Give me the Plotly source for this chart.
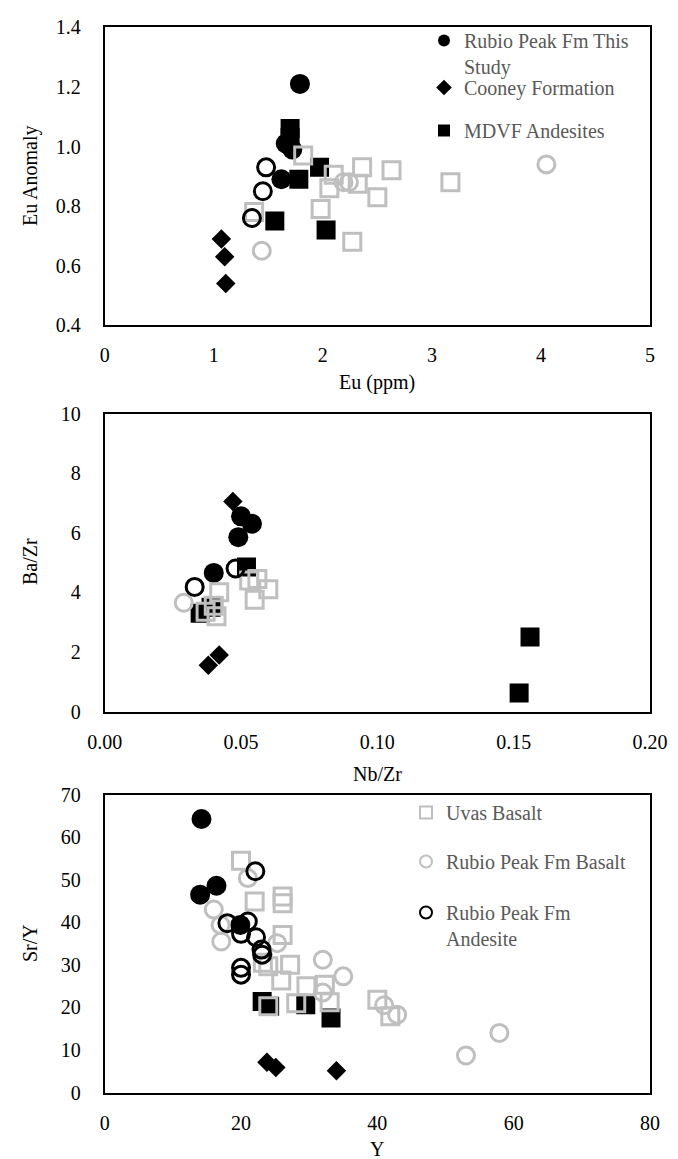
import plotly.graph_objects as go

FONT = "Times New Roman, Liberation Serif, serif"
GRAY = "#BFBFBF"
W, H = 678, 1159

# ---------------- series names ----------------
names = [
    "Rubio Peak Fm This<br>Study",
    "Cooney Formation",
    "MDVF Andesites",
    "Uvas Basalt",
    "Rubio Peak Fm Basalt",
    "Rubio Peak Fm<br>Andesite",
]

# ---------------- Panel 1: Eu (ppm) vs Eu Anomaly ----------------
eu_study_x = [1.79, 1.66, 1.72, 1.62]
eu_study_y = [1.21, 1.01, 0.99, 0.89]
eu_cooney_x = [1.07, 1.10, 1.11]
eu_cooney_y = [0.69, 0.63, 0.54]
eu_mdvf_x = [1.70, 1.70, 1.78, 1.97, 1.56, 2.03]
eu_mdvf_y = [1.06, 1.03, 0.89, 0.93, 0.75, 0.72]
eu_uvas_x = [1.82, 2.10, 2.36, 2.63, 2.06, 2.32, 2.50, 1.98, 1.37, 2.27, 3.17]
eu_uvas_y = [0.97, 0.905, 0.93, 0.92, 0.86, 0.875, 0.83, 0.79, 0.78, 0.68, 0.88]
eu_rpbas_x = [1.44, 2.19, 2.24, 4.05]
eu_rpbas_y = [0.65, 0.88, 0.88, 0.94]
eu_rpand_x = [1.48, 1.45, 1.35]
eu_rpand_y = [0.93, 0.85, 0.76]

# ---------------- Panel 2: Nb/Zr vs Ba/Zr ----------------
nb_study_x = [0.050, 0.054, 0.049, 0.040]
nb_study_y = [6.55, 6.30, 5.85, 4.65]
nb_cooney_x = [0.047, 0.042, 0.038]
nb_cooney_y = [7.05, 1.90, 1.55]
nb_mdvf_x = [0.052, 0.035, 0.039, 0.156, 0.152]
nb_mdvf_y = [4.85, 3.30, 3.50, 2.50, 0.62]
nb_uvas_x = [0.042, 0.040, 0.041, 0.037, 0.053, 0.056, 0.060, 0.055]
nb_uvas_y = [4.00, 3.55, 3.20, 3.35, 4.40, 4.45, 4.10, 3.75]
nb_rpbas_x = [0.029]
nb_rpbas_y = [3.65]
nb_rpand_x = [0.048, 0.033]
nb_rpand_y = [4.80, 4.18]

# ---------------- Panel 3: Y vs Sr/Y ----------------
y_study_x = [14.2, 16.4, 14.0, 19.9]
y_study_y = [64.3, 48.6, 46.5, 39.4]
y_cooney_x = [23.8, 25.1, 34.0]
y_cooney_y = [7.1, 5.9, 5.1]
y_mdvf_x = [23.1, 24.2, 29.5, 33.2]
y_mdvf_y = [21.4, 20.3, 20.6, 17.5]
y_uvas_x = [20.0, 22.0, 26.1, 26.1, 26.1, 24.0, 27.2, 25.9, 29.6, 32.3, 33.0, 24.0, 28.1, 40.0, 41.9, 23.2]
y_uvas_y = [54.5, 44.9, 46.1, 44.5, 37.0, 29.7, 30.0, 26.3, 25.0, 25.3, 21.2, 20.3, 21.0, 21.8, 17.9, 30.5]
y_rpbas_x = [21.0, 16.0, 17.0, 17.1, 25.3, 32.0, 35.0, 32.0, 41.0, 42.9, 57.9, 53.0]
y_rpbas_y = [50.4, 43.0, 39.4, 35.5, 35.1, 31.2, 27.3, 23.5, 20.5, 18.3, 14.0, 8.7]
y_rpand_x = [22.1, 18.0, 21.0, 20.0, 22.2, 23.0, 23.1, 20.0, 20.0]
y_rpand_y = [52.0, 39.8, 40.2, 37.3, 36.5, 33.6, 32.4, 29.3, 27.7]

panels = [
    [(eu_study_x, eu_study_y), (eu_cooney_x, eu_cooney_y), (eu_mdvf_x, eu_mdvf_y),
     (eu_uvas_x, eu_uvas_y), (eu_rpbas_x, eu_rpbas_y), (eu_rpand_x, eu_rpand_y)],
    [(nb_study_x, nb_study_y), (nb_cooney_x, nb_cooney_y), (nb_mdvf_x, nb_mdvf_y),
     (nb_uvas_x, nb_uvas_y), (nb_rpbas_x, nb_rpbas_y), (nb_rpand_x, nb_rpand_y)],
    [(y_study_x, y_study_y), (y_cooney_x, y_cooney_y), (y_mdvf_x, y_mdvf_y),
     (y_uvas_x, y_uvas_y), (y_rpbas_x, y_rpbas_y), (y_rpand_x, y_rpand_y)],
]

markers = [
    dict(symbol="circle", size=20, color="black", line=dict(width=0)),
    dict(symbol="diamond", size=15, color="black", line=dict(width=0)),
    dict(symbol="square", size=19, color="black", line=dict(width=0)),
    dict(symbol="square-open", size=17, color=GRAY, line=dict(width=3, color=GRAY)),
    dict(symbol="circle-open", size=17, color=GRAY, line=dict(width=3, color=GRAY)),
    dict(symbol="circle-open", size=17, color="black", line=dict(width=3, color="black")),
]

legend_ids = {(0, 0): "legend", (0, 1): "legend2", (0, 2): "legend3",
              (2, 3): "legend4", (2, 4): "legend5", (2, 5): "legend6"}

fig = go.Figure()
for p, series in enumerate(panels):
    ax = "" if p == 0 else str(p + 1)
    for s, (xs, ys) in enumerate(series):
        lid = legend_ids.get((p, s))
        kw = dict(showlegend=lid is not None)
        if lid:
            kw["legend"] = lid
        fig.add_trace(go.Scatter(
            x=xs, y=ys, mode="markers", name=names[s],
            marker=markers[s], xaxis="x" + ax, yaxis="y" + ax,
            hoverinfo="skip", **kw))

def py(px):
    return 1 - px / H

xdom = [96.7 / W, 642 / W]
ydoms = [[py(317.3), py(19.3)], [py(703.5), py(405.5)], [py(1084.5), py(786.7)]]

axis_common = dict(showgrid=False, zeroline=False, showline=True, linecolor="black",
                   linewidth=2, mirror=True, ticks="", automargin=False,
                   tickfont=dict(family=FONT, size=20, color="black"))

xcfg = [
    dict(range=[0, 5], tickvals=[0, 1, 2, 3, 4, 5], ticktext=["0", "1", "2", "3", "4", "5"]),
    dict(range=[0, 0.2], tickvals=[0, 0.05, 0.1, 0.15, 0.2], ticktext=["0.00", "0.05", "0.10", "0.15", "0.20"]),
    dict(range=[0, 80], tickvals=[0, 20, 40, 60, 80], ticktext=["0", "20", "40", "60", "80"]),
]
ycfg = [
    dict(range=[0.4, 1.4], tickvals=[0.4, 0.6, 0.8, 1.0, 1.2, 1.4], ticktext=["0.4", "0.6", "0.8", "1.0", "1.2", "1.4"]),
    dict(range=[0, 10], tickvals=[0, 2, 4, 6, 8, 10], ticktext=["0", "2", "4", "6", "8", "10"]),
    dict(range=[0, 70], tickvals=[0, 10, 20, 30, 40, 50, 60, 70], ticktext=["0", "10", "20", "30", "40", "50", "60", "70"]),
]

layout = dict(template="none", width=W, height=H, autosize=False,
              margin=dict(l=0, r=0, t=0, b=0, pad=0),
              paper_bgcolor="white", plot_bgcolor="white",
              font=dict(family=FONT, size=20, color="black"))
for p in range(3):
    ax = "" if p == 0 else str(p + 1)
    layout["xaxis" + ax] = dict(domain=xdom, anchor="y" + ax, ticklabelstandoff=11, **xcfg[p], **axis_common)
    layout["yaxis" + ax] = dict(domain=ydoms[p], anchor="x" + ax, ticklabelstandoff=18, **ycfg[p], **axis_common)

legend_pos = {
    "legend": (416, 13), "legend2": (416, 60), "legend3": (416, 103),
    "legend4": (398, 785), "legend5": (398, 834), "legend6": (398, 885),
}
for lid, (lx, ly) in legend_pos.items():
    layout[lid] = dict(x=lx / W, y=py(ly), xanchor="left", yanchor="top",
                       bgcolor="rgba(0,0,0,0)", borderwidth=0,
                       itemsizing="constant", valign="top",
                       font=dict(family=FONT, size=20, color="#595959"))

fig.update_layout(**layout)

xc = (96.7 + 642) / 2 / W
titles = [
    ("Eu (ppm)", xc, py(375), 0), ("Nb/Zr", xc, py(766), 0), ("Y", xc, py(1141), 0),
    ("Eu Anomaly", 22 / W, py(168), -90), ("Ba/Zr", 22 / W, py(554), -90), ("Sr/Y", 22 / W, py(935), -90),
]
for txt, x, y, ang in titles:
    fig.add_annotation(text=txt, x=x, y=y, xref="paper", yref="paper", showarrow=False,
                       textangle=ang, xanchor="center", yanchor="middle",
                       font=dict(family=FONT, size=20, color="black"))

fig.write_html("out.html")
